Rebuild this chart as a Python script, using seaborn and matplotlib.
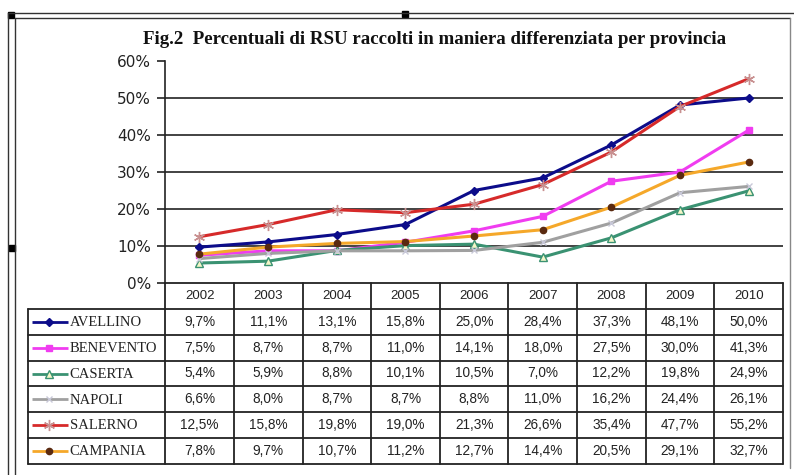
import matplotlib
matplotlib.use("Agg")
import matplotlib.pyplot as plt
from matplotlib.lines import Line2D
from matplotlib.patches import Rectangle
import seaborn as sns
import pandas as pd

# ---------------- data ----------------
years = [2002, 2003, 2004, 2005, 2006, 2007, 2008, 2009, 2010]
provinces = ["AVELLINO", "BENEVENTO", "CASERTA", "NAPOLI", "SALERNO", "CAMPANIA"]
avellino = [9.7, 11.1, 13.1, 15.8, 25.0, 28.4, 37.3, 48.1, 50.0]
benevento = [7.5, 8.7, 8.7, 11.0, 14.1, 18.0, 27.5, 30.0, 41.3]
caserta = [5.4, 5.9, 8.8, 10.1, 10.5, 7.0, 12.2, 19.8, 24.9]
napoli = [6.6, 8.0, 8.7, 8.7, 8.8, 11.0, 16.2, 24.4, 26.1]
salerno = [12.5, 15.8, 19.8, 19.0, 21.3, 26.6, 35.4, 47.7, 55.2]
campania = [7.8, 9.7, 10.7, 11.2, 12.7, 14.4, 20.5, 29.1, 32.7]
y_ticks = [0, 10, 20, 30, 40, 50, 60]
title = "Fig.2  Percentuali di RSU raccolti in maniera differenziata per provincia"

series = [avellino, benevento, caserta, napoli, salerno, campania]
df = pd.DataFrame({"anno": years * len(provinces),
                   "provincia": [p for p in provinces for _ in years],
                   "valore": [v for s in series for v in s]})

styles = {
    "AVELLINO": dict(color="#0c0c8a", marker="D", ms=4.5, mfc="#0c0c8a", mec="#0c0c8a"),
    "BENEVENTO": dict(color="#f03cf0", marker="s", ms=5, mfc="#f03cf0", mec="#f03cf0"),
    "CASERTA": dict(color="#3a9272", marker="^", ms=6, mfc="#f4f6c8", mec="#3a9272"),
    "NAPOLI": dict(color="#a0a0a0", marker="x", ms=5, mfc="#c8c8d8", mec="#c8c8d8"),
    "SALERNO": dict(color="#d62a2a", marker=(6, 2, 0), ms=8, mfc="#c89090", mec="#c89090"),
    "CAMPANIA": dict(color="#f5a82a", marker="o", ms=4.5, mfc="#5a2a10", mec="#5a2a10"),
}

sns.set_style("white")
plt.rcParams["font.family"] = ["DejaVu Sans"]

W, H = 794, 475
fig = plt.figure(figsize=(W / 100, H / 100), dpi=100)
fig.patch.set_facecolor("white")

def fx(px):
    return px / W

def fy(py):
    return 1 - py / H

# ---------------- chart axes ----------------
ax = fig.add_axes([fx(165), fy(283), (783 - 165) / W, (283 - 61) / H])
ax.set_facecolor("none")
for prov in provinces:
    st = styles[prov]
    sub = df[df["provincia"] == prov]
    sns.lineplot(data=sub, x="anno", y="valore", ax=ax, color=st["color"],
                 lw=2.2, marker=st["marker"], markersize=st["ms"],
                 markerfacecolor=st["mfc"], markeredgecolor=st["mec"],
                 markeredgewidth=1.0, legend=False, zorder=3)
ax.set_xlim(years[0] - 0.5, years[-1] + 0.5)
ax.set_ylim(y_ticks[0], y_ticks[-1])
ax.set_yticks(y_ticks)
ax.set_yticklabels([f"{t}%" for t in y_ticks], fontsize=11, color="#222222")
ax.tick_params(axis="y", direction="out", length=6, width=1.2, color="#222222", pad=4, left=True)
ax.set_xticks([])
ax.set_xlabel("")
ax.set_ylabel("")
for s in ["top", "right", "bottom"]:
    ax.spines[s].set_visible(False)
ax.spines["left"].set_color("#222222")
ax.spines["left"].set_linewidth(1.2)
for t in y_ticks[1:-1]:
    ax.axhline(t, color="#222222", lw=1.2, zorder=1)

fig.text(fx(435), fy(40), title, ha="center", va="center",
         fontsize=13.6, fontweight="bold", family="Liberation Serif", color="#111111")

# ---------------- data table ----------------
tab = fig.add_axes([fx(28), fy(464), (783 - 28) / W, (464 - 283) / H])
tab.set_xlim(years[0] - 2.5, years[-1] + 0.5)
tab.set_ylim(len(provinces) + 1, 0)
tab.axis("off")
lc = "#222222"
lw = 1.3
x_left = years[0] - 2.5
x_first = years[0] - 0.5
x_right = years[-1] + 0.5
nrows = len(provinces) + 1
tab.plot([x_first, x_right], [0, 0], color=lc, lw=lw, clip_on=False)
for r in range(1, nrows + 1):
    tab.plot([x_left, x_right], [r, r], color=lc, lw=lw, clip_on=False)
tab.plot([x_left, x_left], [1, nrows], color=lc, lw=lw, clip_on=False)
for c in range(len(years) + 1):
    xc = x_first + c
    tab.plot([xc, xc], [0, nrows], color=lc, lw=lw, clip_on=False)

for y in years:
    tab.text(y, 0.5, str(y), ha="center", va="center", fontsize=9.5,
             family="Liberation Sans", color="#222222")

for i, (prov, vals) in enumerate(zip(provinces, series)):
    yr = i + 1.5
    st = styles[prov]
    tab.plot([x_left + 0.06, x_left + 0.59], [yr, yr], color=st["color"], lw=2.0,
             clip_on=False, solid_capstyle="butt")
    tab.plot([x_left + 0.31], [yr], marker=st["marker"], ms=st["ms"], mfc=st["mfc"],
             mec=st["mec"], mew=1.0, clip_on=False, ls="none")
    tab.text(x_left + 0.61, yr + 0.03, prov, ha="left", va="center", fontsize=10.5,
             family="Liberation Serif", color="#222222")
    for y, v in zip(years, vals):
        tab.text(y, yr, f"{v:.1f}%".replace(".", ","), ha="center", va="center",
                 fontsize=9.8, family="Liberation Sans", color="#222222")

# ---------------- frame ----------------
fl = dict(transform=fig.transFigure, color="#333333", lw=1.0)
fig.add_artist(Line2D([fx(8), fx(8)], [fy(13), 0], **fl))
fig.add_artist(Line2D([fx(15), fx(15)], [fy(18), 0], **fl))
fig.add_artist(Line2D([fx(8), 1], [fy(13), fy(13)], **fl))
fig.add_artist(Line2D([fx(15), fx(790)], [fy(18), fy(18)], **fl))
fig.add_artist(Line2D([fx(790), fx(790)], [fy(18), fy(468)], transform=fig.transFigure,
                      color="#888888", lw=1.0))
for (x0, y0) in [(8, 12), (402, 11), (9, 245)]:
    fig.add_artist(Rectangle((fx(x0), fy(y0 + 6)), 6 / W, 6 / H,
                             transform=fig.transFigure, color="black"))

fig.savefig("out.png", dpi=100, facecolor="white")
